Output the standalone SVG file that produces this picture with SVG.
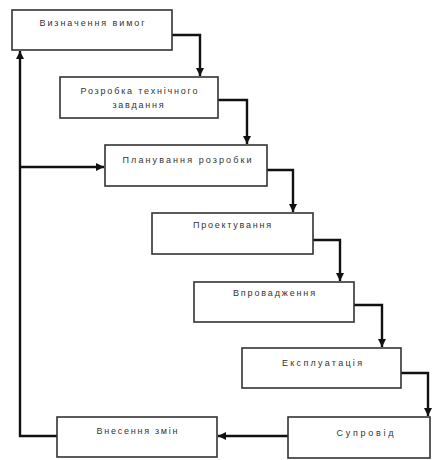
<svg xmlns="http://www.w3.org/2000/svg" width="437" height="460" viewBox="0 0 437 460">
<style>
.box{fill:#fff;stroke:#333;stroke-width:1.6}
.t{font-family:"Liberation Sans",Arial,sans-serif;font-size:9px;fill:#333;text-anchor:middle}
.c{fill:none;stroke:#111;stroke-width:2.4}
</style>
<defs>
<marker id="ah" viewBox="0 0 10 10" refX="10" refY="5" markerWidth="3.4" markerHeight="3.4" orient="auto" markerUnits="strokeWidth">
<path d="M0,0 L10,5 L0,10 z" fill="#111"/>
</marker>
</defs>
<rect width="437" height="460" fill="#fff"/>
<g id="connectors">
<path class="c" d="M172,35 H200 V76" marker-end="url(#ah)"/>
<path class="c" d="M218,100 H247 V144" marker-end="url(#ah)"/>
<path class="c" d="M267,170 H293 V212" marker-end="url(#ah)"/>
<path class="c" d="M313,240 H340 V281" marker-end="url(#ah)"/>
<path class="c" d="M354,305 H382 V347" marker-end="url(#ah)"/>
<path class="c" d="M401,373 H428 V416" marker-end="url(#ah)"/>
<path class="c" d="M288,436 H218" marker-end="url(#ah)"/>
<path class="c" d="M57,436 H20 V51" marker-end="url(#ah)"/>
<path class="c" d="M20,167 H104" marker-end="url(#ah)"/>
</g>
<g id="n1"><rect class="box" x="12" y="10" width="160" height="40"/><text class="t" x="92" y="26" textLength="105" lengthAdjust="spacing">Визначення вимог</text></g>
<g id="n2"><rect class="box" x="60" y="77" width="158" height="41"/><text class="t" x="139" y="94" textLength="117" lengthAdjust="spacing">Розробка технічного</text><text class="t" x="138" y="108" textLength="51" lengthAdjust="spacing">завдання</text></g>
<g id="n3"><rect class="box" x="105" y="145" width="162" height="41"/><text class="t" x="187" y="163" textLength="129" lengthAdjust="spacing">Планування розробки</text></g>
<g id="n4"><rect class="box" x="152" y="213" width="161" height="41"/><text class="t" x="232" y="228" textLength="78" lengthAdjust="spacing">Проектування</text></g>
<g id="n5"><rect class="box" x="194" y="282" width="160" height="40"/><text class="t" x="274" y="296" textLength="82" lengthAdjust="spacing">Впровадження</text></g>
<g id="n6"><rect class="box" x="242" y="348" width="159" height="40"/><text class="t" x="322" y="366" textLength="80" lengthAdjust="spacing">Експлуатація</text></g>
<g id="n7"><rect class="box" x="288" y="417" width="142" height="41"/><text class="t" x="365" y="436" textLength="57" lengthAdjust="spacing">Супровід</text></g>
<g id="n8"><rect class="box" x="57" y="417" width="160" height="40"/><text class="t" x="137" y="434" textLength="81" lengthAdjust="spacing">Внесення змін</text></g>
</svg>
